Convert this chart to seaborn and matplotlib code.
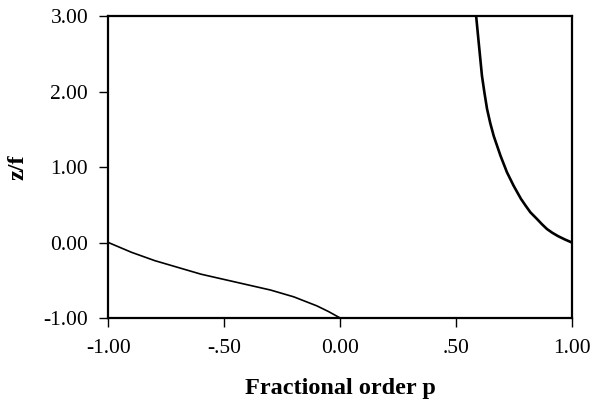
import matplotlib
matplotlib.use("Agg")
import matplotlib.pyplot as plt
import seaborn as sns
import pandas as pd

# Lower branch: order p from -1 to 0
p_left = [-1.0, -0.95, -0.9, -0.8, -0.7, -0.6, -0.5, -0.4, -0.3, -0.2,
          -0.1, -0.05, 0.0]
z_left = [0.0, -0.065, -0.13, -0.24, -0.33, -0.42, -0.49, -0.56, -0.63,
          -0.72, -0.84, -0.915, -1.0]

# Upper branch: order p from ~0.59 to 1
p_right = [0.587, 0.598, 0.612, 0.623, 0.634, 0.648, 0.663, 0.692, 0.720,
           0.749, 0.78, 0.80, 0.821, 0.85, 0.87, 0.892, 0.915, 0.94, 0.97,
           1.0]
z_right = [3.0, 2.65, 2.21, 1.98, 1.77, 1.58, 1.41, 1.15, 0.93,
           0.75, 0.58, 0.49, 0.40, 0.31, 0.245, 0.18, 0.13, 0.085, 0.04,
           0.0]

x_ticks = [-1.0, -0.5, 0.0, 0.5, 1.0]
x_tick_labels = ["-1.00", "-.50", "0.00", ".50", "1.00"]
y_ticks = [-1.0, 0.0, 1.0, 2.0, 3.0]
y_tick_labels = ["-1.00", "0.00", "1.00", "2.00", "3.00"]

sns.set_style("ticks")
plt.rcParams["font.family"] = ["Liberation Serif", "DejaVu Serif"]
plt.rcParams["text.color"] = "black"
plt.rcParams["axes.labelcolor"] = "black"

left_df = pd.DataFrame({"p": p_left, "z": z_left})
right_df = pd.DataFrame({"p": p_right, "z": z_right})

fig = plt.figure(figsize=(5.92, 4.03), dpi=100)
ax = fig.add_axes([0.183, 0.211, 0.783, 0.749])

sns.lineplot(data=left_df, x="p", y="z", sort=False, color="black",
             linewidth=1.2, ax=ax)
sns.lineplot(data=right_df, x="p", y="z", sort=False, color="black",
             linewidth=1.9, ax=ax)

ax.set_xlim(-1.0, 1.0)
ax.set_ylim(-1.0, 3.0)
ax.set_xticks(x_ticks)
ax.set_xticklabels(x_tick_labels)
ax.set_yticks(y_ticks)
ax.set_yticklabels(y_tick_labels)

for side in ["top", "right", "bottom", "left"]:
    ax.spines[side].set_visible(True)
    ax.spines[side].set_linewidth(1.6)
    ax.spines[side].set_color("black")

ax.tick_params(axis="both", direction="out", length=6.5, width=1.0,
               color="black", labelsize=15.5, labelcolor="black")
ax.tick_params(axis="x", pad=8.5)
ax.tick_params(axis="y", pad=8)

ax.set_xlabel("Fractional order p", fontsize=17.5, fontweight="bold")
ax.set_ylabel("z/f", fontsize=17.5, fontweight="bold")
ax.xaxis.set_label_coords(0.5, -0.2)
ax.yaxis.set_label_coords(-0.173, 0.5)

fig.savefig("out.png", dpi=100, facecolor="white")
